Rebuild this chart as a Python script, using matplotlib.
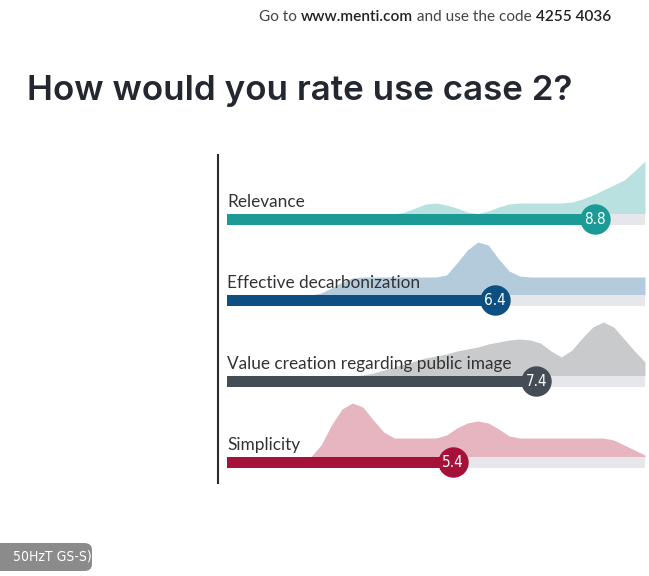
import matplotlib
matplotlib.use("Agg")
import matplotlib.pyplot as plt
from matplotlib.lines import Line2D
from matplotlib.patches import FancyBboxPatch
import numpy as np

W, H = 649, 576

labels = ["Relevance", "Effective decarbonization", "Value creation regarding public image", "Simplicity"]
scores = [8.8, 6.4, 7.4, 5.4]
bar_colors = ["#1c9a96", "#0d4f80", "#444d55", "#a6113a"]
fill_colors = ["#b9e1e0", "#b4cbdc", "#c8cacc", "#e6b5c0"]

# distribution of answers, sampled every 0.25 on the 0-10 scale
dist_x = np.arange(0, 10.01, 0.25)
dist_relevance = [0, 0, 0, 0, 0, 0, 0, 0, 0, 0, 0, 0, 0, 0, 0, 0,
                  0, 2, 6, 10, 11, 9, 6, 2, 0.5, 3, 7, 10, 11, 11, 11, 11,
                  11, 12, 15, 19, 24, 29, 34, 43, 53]
dist_decarb = [0, 0, 0, 0, 0, 0, 0, 0, 0, 2, 7, 13, 17, 18, 18, 18,
               18, 18, 18, 18, 18, 20, 32, 45, 53, 50, 36, 24, 19, 18, 18, 18,
               18, 18, 18, 18, 18, 18, 18, 18, 18]
dist_value = [0, 0, 0, 0, 0, 0, 0, 0, 0, 0, 0, 0, 0, 1, 3, 6,
              9, 12, 15, 18, 20, 22, 25, 27, 29, 32, 34, 36, 37, 36, 33, 25,
              19, 26, 38, 49, 54, 49, 37, 25, 14]
dist_simplicity = [0, 0, 0, 0, 0, 0, 0, 0, 0, 12, 32, 48, 54, 50, 37, 25,
                   19, 19, 19, 19, 19, 22, 29, 34, 36, 34, 28, 21, 19, 19, 19, 19,
                   19, 19, 19, 19, 19, 17, 12, 7, 2]
dists = [dist_relevance, dist_decarb, dist_value, dist_simplicity]

row_top = [214, 295, 376, 457]   # pixel row of each bar's top edge
bar_h = 11
narrow = dict(family=["DejaVu Sans", "Noto Sans"], stretch="condensed")

fig = plt.figure(figsize=(W / 100, H / 100), dpi=100)
fig.patch.set_facecolor("white")


def fx(px):
    return px / W


def fy(py):
    return 1 - py / H


ax = fig.add_axes([fx(227), 0, fx(645) - fx(227), 1])
ax.set_xlim(0, 10)
ax.set_ylim(H, 0)
ax.axis("off")

for i in range(len(labels)):
    base = row_top[i]
    ax.fill_between(dist_x, base, base - np.array(dists[i]), color=fill_colors[i],
                    linewidth=0, zorder=1, clip_on=False)
    ax.barh(base + bar_h / 2, 10, height=bar_h, left=0, color="#e6e6eb", zorder=2)
    ax.barh(base + bar_h / 2, scores[i], height=bar_h, left=0, color=bar_colors[i], zorder=3)
    ax.scatter([scores[i]], [base + 5], s=480, color=bar_colors[i], zorder=4, linewidths=0)
    ax.text(scores[i], base + 5.5, f"{scores[i]:.1f}", color="white", fontsize=11,
            ha="center", va="center", zorder=5, **narrow)
    ax.text(0, base - 7, labels[i], fontsize=12.4, color="#333333", ha="left",
            va="baseline", zorder=5, family=["Lato", "DejaVu Sans"])

fig.add_artist(Line2D([fx(218), fx(218)], [fy(155), fy(483)], color="#2b2b2b", lw=1.5))

fig.text(fx(27), fy(91), "How would you rate use case 2?", fontsize=25.2,
         color="#23272f", va="center", ha="left", family=["Inter", "DejaVu Sans"], weight="semibold")

top_font = dict(fontsize=11.1, family=["Lato", "DejaVu Sans"], va="bottom")
t1 = fig.text(fx(259), fy(24), "Go to ", color="#444444", **top_font)
t2 = plt.annotate("www.menti.com", xy=(1, 0), xycoords=t1, color="#222222",
                  weight="semibold", **top_font)
t3 = plt.annotate(" and use the code ", xy=(1, 0), xycoords=t2, color="#444444", **top_font)
t4 = plt.annotate("4255 4036", xy=(1, 0), xycoords=t3, color="#222222",
                  weight="semibold", **top_font)

box = FancyBboxPatch((fx(-10), fy(571)), fx(102), fy(543) - fy(571),
                     boxstyle="round,pad=0,rounding_size=0.012", transform=fig.transFigure,
                     facecolor="#8b8b8b", edgecolor="none")
fig.add_artist(box)
fig.text(fx(13), fy(557), "50HzT GS-S)", color="white", fontsize=10, va="center", **narrow)

fig.savefig("out.png", dpi=100)
